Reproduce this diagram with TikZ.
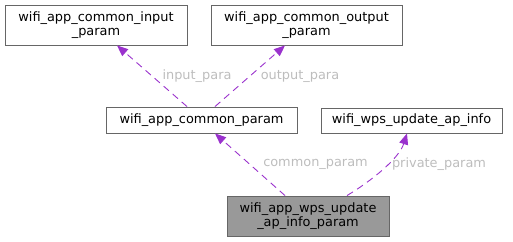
\documentclass[tikz,border=0pt]{standalone}
\usepackage{fontspec}
\setmainfont{DejaVu Sans}
\usetikzlibrary{arrows.meta, positioning}
\definecolor{edgepurple}{HTML}{9A32CD}
\definecolor{boxgray}{HTML}{666666}
\definecolor{labelgray}{HTML}{BDBDBD}
\definecolor{mainfill}{HTML}{999999}

\begin{document}
\begin{tikzpicture}[x=1pt, y=-1pt,
    cls/.style={rectangle, draw=boxgray, fill=#1, line width=0.9pt, inner sep=0pt, align=center, font=\fontsize{12.9}{14.5}\selectfont},
    cls/.default=white,
    rel/.style={-{Triangle[length=11pt, width=9pt]}, dashed, dash pattern=on 7pt off 5pt, line width=0.9pt, color=edgepurple},
    lbl/.style={font=\fontsize{12.9}{14.5}\selectfont, color=labelgray},
]
\useasboundingbox (0,0) rectangle (513,241);
\node[cls, minimum width=182pt, minimum height=40pt] (input) at (96,25) {wifi\_app\_common\_input\\\_param};
\node[cls, minimum width=191pt, minimum height=40pt] (output) at (306.5,25) {wifi\_app\_common\_output\\\_param};
\node[cls, minimum width=191pt, minimum height=26pt] (common) at (201.5,120) {wifi\_app\_common\_param};
\node[cls, minimum width=181pt, minimum height=25pt] (apinfo) at (411.5,120.5) {wifi\_wps\_update\_ap\_info};
\node[cls=mainfill, minimum width=162pt, minimum height=40pt] (main) at (308,216) {wifi\_app\_wps\_update\\\_ap\_info\_param};

\draw[rel] ([xshift=-14.5pt]common.north) -- ([xshift=21pt]input.south);
\draw[rel] ([xshift=13.5pt]common.north) -- ([xshift=-21.5pt]output.south);
\draw[rel] ([xshift=-23pt]main.north) -- ([xshift=13.5pt]common.south);
\draw[rel] ([xshift=39pt]main.north) .. controls +(25,-15) and +(-8,25) .. ([xshift=-4.5pt]apinfo.south);

\node[lbl] (inputlbl) at (197,76) {input\_para};
\node[lbl] (outputlbl) at (300,76) {output\_para};
\node[lbl] (commonlbl) at (315.5,164) {common\_param};
\node[lbl] (privatelbl) at (439,164) {private\_param};
\end{tikzpicture}
\end{document}
